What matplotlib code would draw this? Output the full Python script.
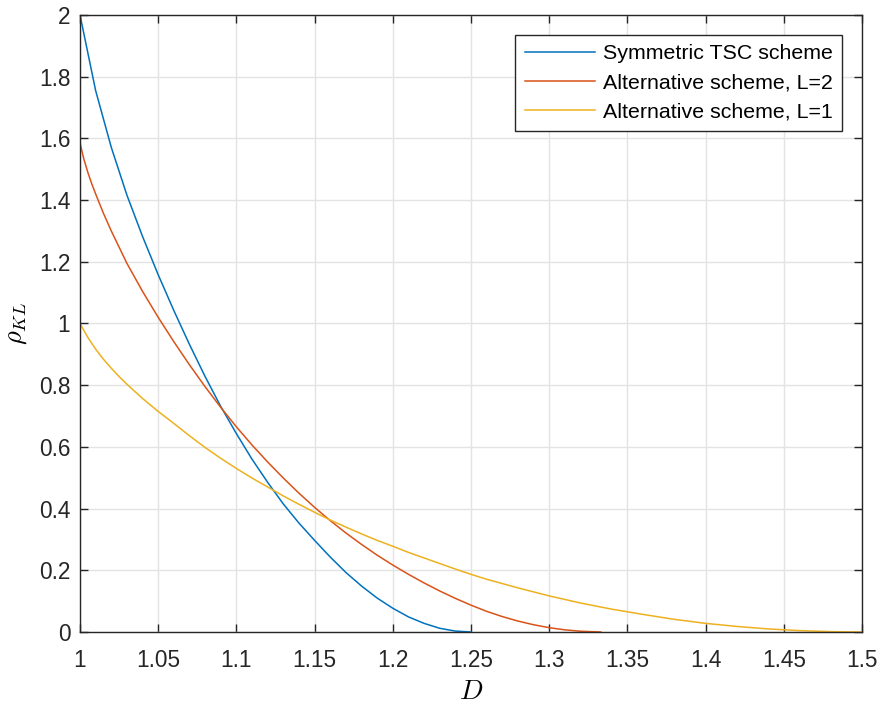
import matplotlib
matplotlib.use("Agg")
import matplotlib.pyplot as plt
from matplotlib.ticker import FormatStrFormatter, MultipleLocator

# Values
D_sym = [1.00, 1.01, 1.02, 1.03, 1.04, 1.05, 1.06, 1.07, 1.08, 1.09, 1.10,
         1.11, 1.12, 1.13, 1.14, 1.15, 1.16, 1.17, 1.18, 1.19, 1.20,
         1.21, 1.22, 1.23, 1.24, 1.25]
rho_sym = [2.00, 1.755, 1.571, 1.416, 1.282, 1.158, 1.042, 0.932, 0.828, 0.731, 0.643,
           0.560, 0.485, 0.415, 0.353, 0.297, 0.243, 0.193, 0.149, 0.110, 0.077,
           0.049, 0.028, 0.012, 0.003, 0.0]

D_alt2 = [1.000, 1.0025, 1.005, 1.0075, 1.01, 1.015, 1.02, 1.03, 1.04, 1.05, 1.06,
          1.07, 1.08, 1.09, 1.10, 1.11, 1.12, 1.13, 1.14, 1.15, 1.16, 1.17,
          1.18, 1.19, 1.20, 1.21, 1.22, 1.23, 1.24, 1.25, 1.26, 1.27, 1.28,
          1.29, 1.30, 1.31, 1.32, 1.333]
rho_alt2 = [1.585, 1.532, 1.490, 1.453, 1.420, 1.357, 1.300, 1.195, 1.104, 1.020, 0.941,
            0.866, 0.795, 0.728, 0.665, 0.606, 0.551, 0.499, 0.450, 0.404, 0.361, 0.321,
            0.284, 0.249, 0.217, 0.187, 0.159, 0.133, 0.109, 0.087, 0.067, 0.050, 0.0355,
            0.0235, 0.014, 0.007, 0.0025, 0.0]

D_alt1 = [1.000, 1.005, 1.01, 1.015, 1.02, 1.025, 1.03, 1.04, 1.05, 1.06, 1.07, 1.08,
          1.09, 1.10, 1.11, 1.12, 1.13, 1.14, 1.15, 1.16, 1.17, 1.18, 1.19, 1.20,
          1.21, 1.22, 1.23, 1.24, 1.25, 1.26, 1.27, 1.28, 1.29, 1.30, 1.32, 1.34,
          1.36, 1.38, 1.40, 1.42, 1.44, 1.46, 1.48, 1.50]
rho_alt1 = [1.0, 0.955, 0.917, 0.884, 0.855, 0.828, 0.803, 0.757, 0.715, 0.676, 0.636, 0.598,
            0.563, 0.530, 0.499, 0.470, 0.441, 0.414, 0.388, 0.363, 0.340, 0.318, 0.297, 0.278,
            0.258, 0.240, 0.222, 0.204, 0.187, 0.171, 0.157, 0.143, 0.130, 0.117, 0.094, 0.074,
            0.057, 0.041, 0.028, 0.018, 0.010, 0.0045, 0.0012, 0.0]

labels = ["Symmetric TSC scheme", "Alternative scheme, L=2", "Alternative scheme, L=1"]
colors = ["#0072BD", "#D95319", "#EDB120"]

plt.rcParams['font.family'] = ['Liberation Sans', 'DejaVu Sans']
plt.rcParams['mathtext.fontset'] = 'cm'

fig = plt.figure(figsize=(8.84, 7.04), dpi=100)
ax = fig.add_axes([80/884, 1-632/704, (862-80)/884, (632-15)/704])

for D, r, lab, c in zip([D_sym, D_alt2, D_alt1], [rho_sym, rho_alt2, rho_alt1], labels, colors):
    ax.plot(D, r, color=c, lw=1.1, label=lab)

ax.set_xlim(1, 1.5)
ax.set_ylim(0, 2)
ax.xaxis.set_major_locator(MultipleLocator(0.05))
ax.yaxis.set_major_locator(MultipleLocator(0.2))
ax.xaxis.set_major_formatter(FormatStrFormatter('%g'))
ax.yaxis.set_major_formatter(FormatStrFormatter('%g'))
ax.grid(True, color='#e3e3e3', lw=1.0)
ax.set_axisbelow(True)
ax.tick_params(direction='in', top=True, right=True, length=6, width=1,
               labelsize=16.3, color='#262626', labelcolor='#262626')
ax.tick_params(axis='x', pad=12)
ax.tick_params(axis='y', pad=7)
for s in ax.spines.values():
    s.set_color('#262626')
    s.set_linewidth(1.0)

ax.set_xlabel(r'$D$', fontsize=20, labelpad=5)
ax.set_ylabel(r'$\rho_{KL}$', fontsize=19, labelpad=7)

leg = ax.legend(loc='upper right', fontsize=15.4, handlelength=3.3, fancybox=False,
                edgecolor='#262626', framealpha=1, borderaxespad=0.92,
                labelspacing=0.48, handletextpad=0.35, borderpad=0.45)
leg.get_frame().set_linewidth(1.0)

fig.savefig('out.png', dpi=100)
